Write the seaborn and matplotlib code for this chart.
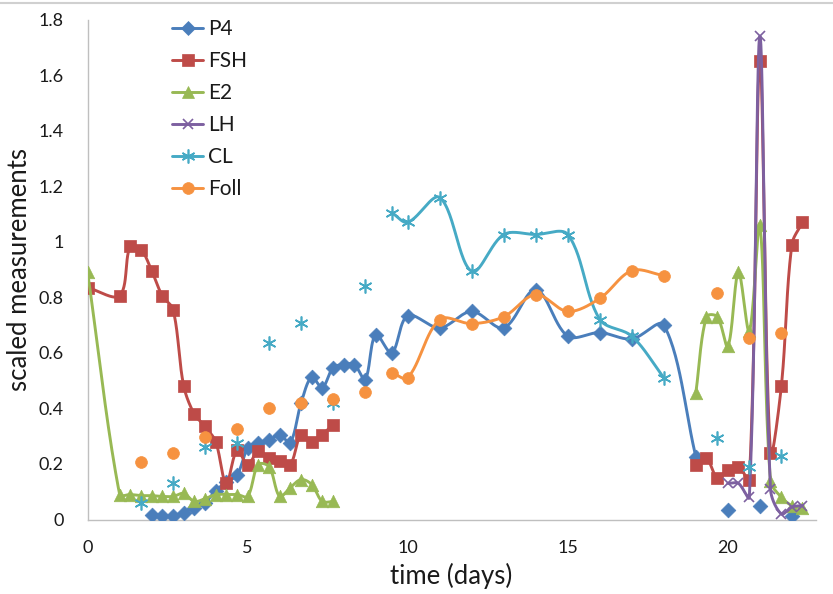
import numpy as np
import pandas as pd
import matplotlib
matplotlib.use("Agg")
import matplotlib.pyplot as plt
import seaborn as sns
from matplotlib.lines import Line2D

# sampling times (days); None marks a missing measurement
time_days = [0, 1, 1.33, 1.67, 2, 2.33, 2.67, 3, 3.33, 3.67, 4, 4.33, 4.67,
             5, 5.33, 5.67, 6, 6.33, 6.67, 7, 7.33, 7.67, 8, 8.33, 8.67, 9,
             9.5, 10, 11, 12, 13, 14, 15, 16, 17, 18, 19, 19.33, 19.67, 20,
             20.33, 20.67, 21, 21.33, 21.67, 22, 22.33]

N = None
p4 = [N, N, N, N, 0.018, 0.014, 0.011, 0.025, 0.043, 0.061, 0.104, 0.134, 0.16,
      0.256, 0.277, 0.286, 0.304, 0.277, 0.42, 0.513, 0.475, 0.547, 0.558, 0.558, 0.504, 0.666,
      0.60, 0.734, 0.69, 0.749, 0.69, 0.828, 0.66, 0.673, 0.65, 0.70, 0.226, N, N, 0.036,
      N, N, 0.047, N, N, 0.011, N]
fsh = [0.835, 0.806, 0.983, 0.972, 0.896, 0.806, 0.756, 0.482, 0.38, 0.335, 0.28, 0.13, 0.25,
       0.198, 0.245, 0.223, 0.21, 0.198, 0.306, 0.28, 0.306, 0.342, N, N, N, N,
       N, N, N, N, N, N, N, N, N, N, 0.198, 0.22, 0.15, 0.18,
       0.19, 0.144, 1.65, 0.24, 0.48, 0.99, 1.07]
e2 = [0.89, 0.09, 0.09, 0.086, 0.086, 0.083, 0.083, 0.094, 0.065, 0.075, 0.09, 0.09, 0.09,
      0.083, 0.198, 0.19, 0.083, 0.115, 0.144, 0.126, 0.065, 0.065, N, N, N, N,
      N, N, N, N, N, N, N, N, N, N, 0.457, 0.73, 0.73, 0.623,
      0.89, 0.677, 1.06, 0.14, 0.08, 0.05, 0.04]
lh = [N, N, N, N, N, N, N, N, N, N, N, N, N,
      N, N, N, N, N, N, N, N, N, N, N, N, N,
      N, N, N, N, N, N, N, N, N, N, N, N, N, 0.13,
      0.13, 0.08, 1.74, 0.11, 0.02, 0.045, 0.05]
cl = [N, N, N, 0.058, N, N, 0.13, N, N, 0.26, N, N, 0.277,
      N, N, 0.637, N, N, 0.709, N, N, 0.42, N, N, 0.842, N,
      1.105, 1.07, 1.159, 0.893, 1.026, 1.026, 1.026, 0.72, 0.66, 0.51, N, N, 0.295, N,
      N, 0.19, N, N, 0.23, N, N]
foll = [N, N, N, 0.208, N, N, 0.24, N, N, 0.298, N, N, 0.327,
        N, N, 0.40, N, N, 0.418, N, N, 0.435, N, N, 0.46, N,
        0.529, 0.51, 0.72, 0.705, 0.73, 0.81, 0.749, 0.796, 0.896, 0.878, N, N, 0.817, N,
        N, 0.655, N, N, 0.673, N, N]

series_names = ["P4", "FSH", "E2", "LH", "CL", "Foll"]
series_values = [p4, fsh, e2, lh, cl, foll]
colors = ["#4A7EBB", "#BE4B48", "#98B954", "#7D60A0", "#46AAC5", "#F69240"]
markers = ["D", "s", "^", "x", (6, 2, 0), "o"]
marker_sizes = [7.5, 8.5, 9, 7.5, 10, 8.5]

FONT = "Lato"
sns.set_theme(style="white")
plt.rcParams["font.family"] = [FONT, "DejaVu Sans"]

X_MAX, Y_MAX = 22.74, 1.8
AX_W_PX, AX_H_PX = 728.0, 500.0


def smooth_segment(xs, ys, n=30):
    """Bezier smoothing through points; tangents are scaled by on-screen
    segment lengths so short hops next to long jumps do not overshoot."""
    sx, sy = AX_W_PX / X_MAX, AX_H_PX / Y_MAX
    pts = np.column_stack([np.asarray(xs) * sx, np.asarray(ys) * sy])
    out = []
    t = np.linspace(0, 1, n)[:, None]
    for i in range(len(pts) - 1):
        p0 = pts[i - 1] if i > 0 else pts[i]
        p1, p2 = pts[i], pts[i + 1]
        p3 = pts[i + 2] if i + 2 < len(pts) else pts[i + 1]
        d01 = np.linalg.norm(p1 - p0)
        d12 = np.linalg.norm(p2 - p1)
        d23 = np.linalg.norm(p3 - p2)
        m1 = (p2 - p0) / max(d01 + d12, 1e-9)
        m2 = (p3 - p1) / max(d12 + d23, 1e-9)
        c1 = p1 + m1 * d12 / 3.0
        c2 = p2 - m2 * d12 / 3.0
        seg = ((1 - t) ** 3) * p1 + 3 * ((1 - t) ** 2) * t * c1 + 3 * (1 - t) * t ** 2 * c2 + t ** 3 * p2
        out.append(seg if i == 0 else seg[1:])
    curve = np.vstack(out)
    return curve[:, 0] / sx, curve[:, 1] / sy


fig = plt.figure(figsize=(8.33, 5.94), dpi=100)
ax = fig.add_axes([87.6 / 833, 1 - 519.5 / 594, AX_W_PX / 833, AX_H_PX / 594])

x = np.array(time_days, dtype=float)
for k, (name, vals, col, mk, ms) in enumerate(zip(series_names, series_values, colors, markers, marker_sizes)):
    v = np.array(vals, dtype=float)
    ok = ~np.isnan(v)
    # contiguous runs of measurements are joined by a smoothed line
    rows = []
    seg_id = 0
    i = 0
    while i < len(v):
        if ok[i]:
            j = i
            while j + 1 < len(v) and ok[j + 1]:
                j += 1
            if j > i:
                cx, cy = smooth_segment(x[i:j + 1], v[i:j + 1])
                rows.append(pd.DataFrame({"x": cx, "y": cy, "seg": seg_id}))
                seg_id += 1
            i = j + 1
        else:
            i += 1
    if rows:
        df = pd.concat(rows, ignore_index=True)
        sns.lineplot(data=df, x="x", y="y", units="seg", estimator=None, sort=False,
                     color=col, lw=2.1, ax=ax, legend=False, zorder=3 + 2 * k)
    filled = mk not in ("x", (6, 2, 0))
    if filled:
        sns.scatterplot(x=x[ok], y=v[ok], marker=mk, s=ms ** 2, color=col, edgecolor=col,
                        linewidth=0.5, ax=ax, legend=False, zorder=4 + 2 * k)
    else:
        ax.plot(x[ok], v[ok], linestyle="none", marker=mk, ms=ms, mec=col, mew=1.2,
                zorder=4 + 2 * k)

ax.set_xlim(0, X_MAX)
ax.set_ylim(0, Y_MAX)
ax.set_xticks([0, 5, 10, 15, 20])
ax.set_yticks(np.arange(0, 1.81, 0.2))
ax.set_yticklabels(["0", "0.2", "0.4", "0.6", "0.8", "1", "1.2", "1.4", "1.6", "1.8"])
ax.tick_params(axis="both", length=0, labelsize=13, colors="#1a1a1a")
ax.tick_params(axis="y", pad=17)
ax.tick_params(axis="x", pad=15)
for side in ("top", "right"):
    ax.spines[side].set_visible(False)
for side in ("left", "bottom"):
    ax.spines[side].set_color("#BFBFBF")
    ax.spines[side].set_linewidth(1.0)
ax.set_xlabel("time (days)", fontsize=18.5, color="#1a1a1a")
ax.set_ylabel("scaled measurements", fontsize=18.5, color="#1a1a1a")
ax.xaxis.set_label_coords(0.5, -0.087)
ax.yaxis.set_label_coords(-0.093, 0.5)
ax.yaxis.label.set_verticalalignment("center")
ax.set_facecolor("white")

handles = []
for name, col, mk, ms in zip(series_names, colors, markers, marker_sizes):
    filled = mk not in ("x", (6, 2, 0))
    handles.append(Line2D([], [], color=col, lw=2.1, marker=mk, ms=ms,
                          mfc=col if filled else "none", mec=col, mew=1.2 if not filled else 0.5))
leg = ax.legend(handles, series_names, loc="upper left", bbox_to_anchor=(172 / 833, 1 - 19 / 594),
                bbox_transform=fig.transFigure, frameon=False, fontsize=15, handlelength=1.5,
                handletextpad=0.25, labelspacing=0.58, borderpad=0, borderaxespad=0)
for txt in leg.get_texts():
    txt.set_color("#1a1a1a")

# thin frame line along the top of the chart area
fig.add_artist(Line2D([0, 1], [1 - 3 / 594, 1 - 3 / 594], transform=fig.transFigure,
                      color="#D0D0D0", lw=1.5))

fig.savefig("out.png", dpi=100, facecolor="white")
